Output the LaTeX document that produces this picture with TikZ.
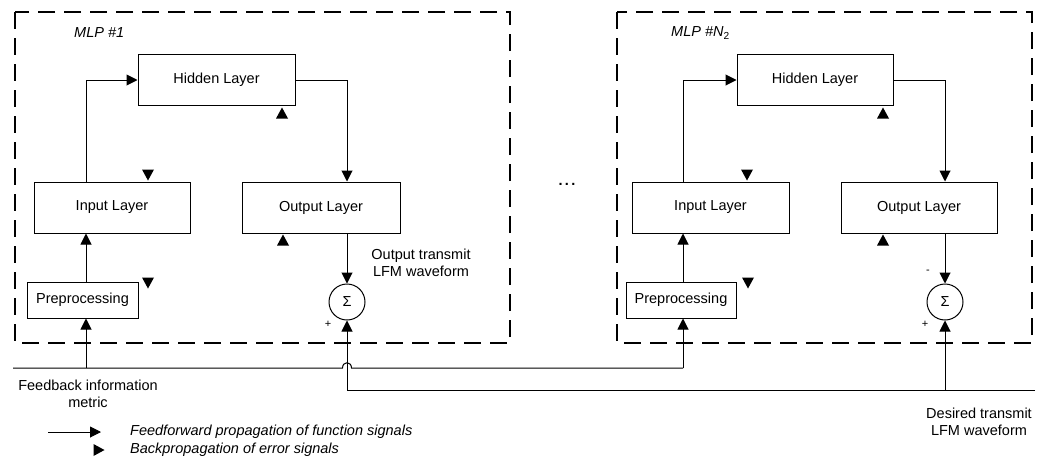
\documentclass[tikz,border=0pt]{standalone}
\usepackage{fontspec}
\setmainfont{Liberation Sans}
\usetikzlibrary{arrows.meta,calc}

\tikzset{
  every node/.style={font=\fontsize{14.5}{17}\selectfont, inner sep=0pt},
  layer/.style={draw, line width=1pt, rectangle},
  sumnode/.style={draw, line width=1pt, circle, minimum size=36pt},
  ff/.style={line width=1pt, -{Triangle[length=11pt,width=11pt]}},
  wire/.style={line width=1pt},
  frame/.style={line width=2.8pt, dash pattern=on 17pt off 9pt},
  lbl/.style={align=center},
  mlp/.style={font=\fontsize{14.5}{17}\selectfont\itshape, anchor=west},
  bpup/.pic={\fill (-6,5.5) -- (6,5.5) -- (0,-5.5) -- cycle;},
  bpdown/.pic={\fill (-6,-5.5) -- (6,-5.5) -- (0,5.5) -- cycle;},
  bpright/.pic={\fill (-5.5,-6) -- (-5.5,6) -- (5.5,0) -- cycle;}
}

\begin{document}
\begin{tikzpicture}[x=1pt, y=-1pt]
\useasboundingbox (0,0) rectangle (1039,461);

% ---------- dashed frames of the two networks ----------
\draw[frame] (15,12) rectangle (510,343);
\draw[frame] (617,12) rectangle (1032,343);

% ---------- network 1 ----------
\node[mlp] (t1) at (74,33) {MLP \#1};
\node[layer, minimum width=157pt, minimum height=51pt] (hid1) at (216.5,80) {Hidden Layer};
\node[layer, minimum width=156pt, minimum height=51pt] (in1) at (112,207.5) {Input Layer};
\node[layer, minimum width=158pt, minimum height=51pt] (out1) at (321,207.5) {Output Layer};
\node[layer, minimum width=111pt, minimum height=36pt] (pre1) at (82.5,300) {Preprocessing};
\node[sumnode] (sig1) at (347,302) {Σ};
\coordinate (c1) at (86,0);

\draw[ff] (in1.north -| c1) |- (hid1.west);
\draw[ff] (hid1.east) -| (out1.north -| sig1);
\draw[ff] (out1.south -| sig1) -- (sig1.north);
\draw[ff] (pre1.north -| c1) -- (in1.south -| c1);

\node (p1) at (328,324) {\fontsize{11}{13}\selectfont +};
\node[lbl] (otx) at (421,263) {Output transmit\\LFM waveform};

\pic at (282,113) {bpup};
\pic at (148,175) {bpdown};
\pic at (283,240) {bpup};
\pic at (148,283) {bpdown};

% ---------- network N2 ----------
\node[mlp] (t2) at (671,33) {MLP \#N\textsubscript{\upshape 2}};
\node[layer, minimum width=156pt, minimum height=51pt] (hid2) at (815,80) {Hidden Layer};
\node[layer, minimum width=157pt, minimum height=51pt] (in2) at (710.5,207.5) {Input Layer};
\node[layer, minimum width=156pt, minimum height=51pt] (out2) at (919,207.5) {Output Layer};
\node[layer, minimum width=110pt, minimum height=36pt] (pre2) at (681,300) {Preprocessing};
\node[sumnode] (sig2) at (945,302) {Σ};
\coordinate (c2) at (683,0);

\draw[ff] (in2.north -| c2) |- (hid2.west);
\draw[ff] (hid2.east) -| (out2.north -| sig2);
\draw[ff] (out2.south -| sig2) -- (sig2.north);
\draw[ff] (pre2.north -| c2) -- (in2.south -| c2);

\node (m2) at (928,272) {\fontsize{11}{13}\selectfont -};
\node (p2) at (925,324) {\fontsize{11}{13}\selectfont +};

\pic at (883,113) {bpup};
\pic at (747,175) {bpdown};
\pic at (883,240) {bpup};
\pic at (748,283) {bpdown};

\node (dots) at (567,184) {\textbf{.\,.\,.}};

% ---------- feedback metric bus (jumps over the desired-waveform wire) ----------
\coordinate (fb) at (13,368);
\coordinate (fbj) at (347,368);
\draw[wire] (fb) -- ($(fbj)+(-4.5,0)$)
  .. controls ($(fbj)+(-4.5,-7)$) and ($(fbj)+(4.5,-7)$) .. ($(fbj)+(4.5,0)$)
  -- (fb -| c2) coordinate (fb2);
\draw[ff] (fb2) -- (pre2.south -| c2);
\draw[ff] (fb -| c1) -- (pre1.south -| c1);

% ---------- desired waveform bus ----------
\coordinate (dw) at (1035,390);
\draw[wire] (dw) -- (dw -| sig1) coordinate (dw1);
\draw[ff] (dw1) -- (sig1.south);
\draw[ff] (dw -| sig2) -- (sig2.south);

\node[lbl] (fbl) at (88,394) {Feedback information\\metric};
\node[lbl] (dwl) at (979,422) {Desired transmit\\LFM waveform};

% ---------- legend ----------
\coordinate (lg1) at (48,432);
\coordinate (lg2) at (101,432);
\draw[ff] (lg1) -- (lg2);
\node[anchor=west, font=\fontsize{14.5}{17}\selectfont\itshape] (lt1) at (130,432) {Feedforward propagation of function signals};
\pic at (99,450) {bpright};
\node[anchor=west, font=\fontsize{14.5}{17}\selectfont\itshape] (lt2) at (130,450) {Backpropagation of error signals};
\end{tikzpicture}
\end{document}
